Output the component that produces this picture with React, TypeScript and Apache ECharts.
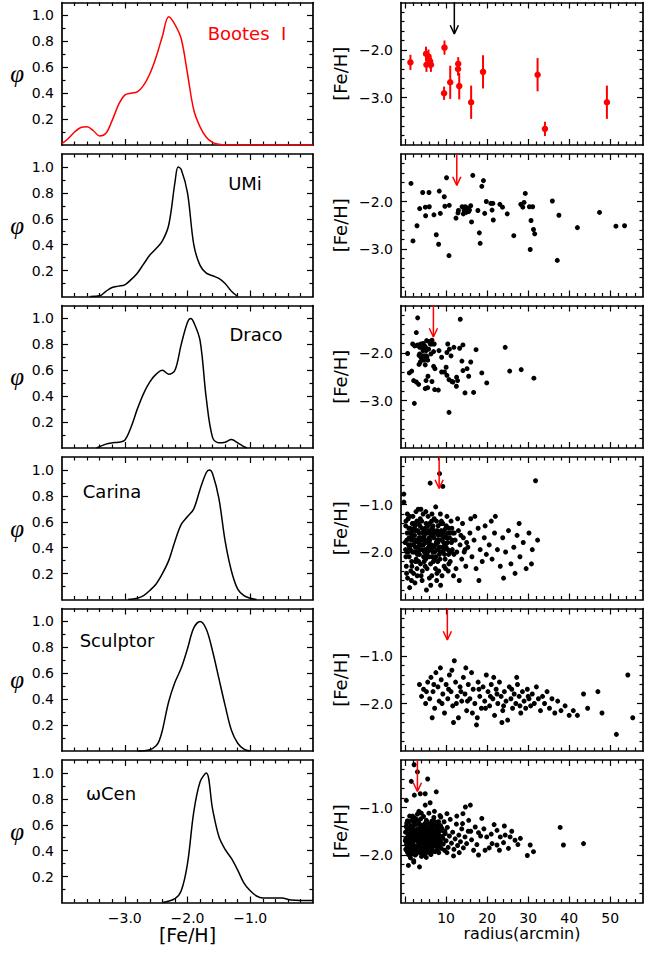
import React, { useEffect, useRef } from 'react';
import * as echarts from 'echarts';

const galaxyNames = ['Bootes  I', 'UMi', 'Draco', 'Carina', 'Sculptor', 'ωCen'];
const galaxyColors = ['#ff0000', '#000000', '#000000', '#000000', '#000000', '#000000'];

// metallicity distribution functions (left column)
const booFeH = [-4.0, -3.9, -3.8, -3.7, -3.6, -3.5, -3.4, -3.3, -3.2, -3.1, -3.0, -2.9, -2.8, -2.7, -2.6, -2.5, -2.4, -2.3, -2.2, -2.1, -2.0, -1.9, -1.8, -1.7, -1.6, -1.5, -1.4, -1.2, -0.8, -0.4, 0.0];
const booPhi = [0.01, 0.05, 0.10, 0.135, 0.14, 0.11, 0.07, 0.09, 0.19, 0.31, 0.385, 0.40, 0.41, 0.46, 0.55, 0.68, 0.84, 0.99, 0.93, 0.82, 0.55, 0.27, 0.14, 0.06, 0.02, 0.005, 0, 0, 0, 0, 0];

const umiFeH = [-3.55, -3.4, -3.3, -3.2, -3.1, -3.0, -2.9, -2.8, -2.7, -2.6, -2.5, -2.4, -2.3, -2.2, -2.15, -2.1, -2.0, -1.9, -1.8, -1.7, -1.6, -1.5, -1.4, -1.3, -1.2];
const umiPhi = [0, 0.005, 0.04, 0.07, 0.08, 0.09, 0.13, 0.18, 0.25, 0.32, 0.37, 0.43, 0.55, 0.88, 1.0, 0.98, 0.80, 0.40, 0.24, 0.18, 0.16, 0.14, 0.10, 0.04, 0.0];

const draFeH = [-3.45, -3.3, -3.2, -3.1, -3.0, -2.9, -2.8, -2.7, -2.6, -2.5, -2.4, -2.3, -2.2, -2.1, -2.0, -1.95, -1.9, -1.8, -1.7, -1.6, -1.5, -1.4, -1.3, -1.2, -1.1, -1.05];
const draPhi = [0, 0.03, 0.04, 0.045, 0.06, 0.16, 0.30, 0.42, 0.51, 0.57, 0.60, 0.57, 0.60, 0.80, 0.97, 1.0, 0.97, 0.83, 0.38, 0.08, 0.04, 0.045, 0.065, 0.04, 0.01, 0];

const carFeH = [-2.95, -2.8, -2.7, -2.6, -2.5, -2.4, -2.3, -2.2, -2.1, -2.0, -1.9, -1.8, -1.7, -1.65, -1.6, -1.5, -1.4, -1.3, -1.2, -1.1, -1.0, -0.9];
const carPhi = [0, 0.01, 0.03, 0.07, 0.12, 0.2, 0.3, 0.45, 0.58, 0.64, 0.7, 0.85, 0.98, 1.0, 0.97, 0.78, 0.45, 0.22, 0.08, 0.03, 0.01, 0];

const sclFeH = [-2.8, -2.6, -2.5, -2.45, -2.4, -2.3, -2.2, -2.1, -2.0, -1.9, -1.8, -1.7, -1.6, -1.5, -1.4, -1.3, -1.2, -1.1, -1.0];
const sclPhi = [0, 0.01, 0.04, 0.08, 0.16, 0.38, 0.53, 0.64, 0.79, 0.95, 1.0, 0.94, 0.77, 0.56, 0.35, 0.16, 0.06, 0.015, 0];

const ocenFeH = [-2.4, -2.2, -2.1, -2.0, -1.9, -1.8, -1.7, -1.6, -1.5, -1.4, -1.3, -1.2, -1.1, -1.0, -0.9, -0.8, -0.6, -0.5, -0.35, 0.0];
const ocenPhi = [0, 0.03, 0.09, 0.3, 0.7, 0.93, 1.0, 0.72, 0.51, 0.41, 0.34, 0.25, 0.15, 0.09, 0.05, 0.035, 0.035, 0.035, 0.02, 0.015];

// radius (arcmin), [Fe/H], error (Bootes I only)
const booStars = [
  [1.3, -2.26, 0.16], [5.1, -2.08, 0.15], [5.7, -2.14, 0.15], [6.1, -2.24, 0.15], [5.2, -2.31, 0.15], [6.3, -2.31, 0.15],
  [9.6, -1.95, 0.15], [9.5, -2.91, 0.14], [11.0, -2.68, 0.35], [12.95, -2.29, 0.14], [12.9, -2.40, 0.14], [13.2, -2.76, 0.28],
  [16.1, -3.10, 0.35], [19.0, -2.46, 0.35], [32.3, -2.52, 0.35], [34.1, -3.66, 0.15], [49.2, -3.10, 0.35],
];

const umiStars = [
  [1.43, -1.62], [1.92, -2.83], [2.9, -2.51], [3.55, -2.15], [4.28, -1.81], [4.93, -2.12], [5.0, -2.30], [5.82, -1.81],
  [5.9, -2.11], [7.03, -2.28], [7.6, -2.70], [8.17, -2.90], [8.33, -1.78], [8.58, -2.25], [9.55, -1.90], [9.7, -2.10],
  [10.1, -1.50], [10.77, -2.08], [10.7, -3.14], [12.4, -2.35], [12.9, -2.24], [13.0, -2.19], [13.9, -2.11], [14.2, -2.26],
  [14.4, -2.19], [14.65, -2.11], [14.9, -2.23], [15.2, -2.14], [15.5, -2.21], [15.7, -2.18], [16.0, -2.09], [16.2, -2.43],
  [16.5, -1.45], [17.75, -2.19], [18.1, -2.66], [18.3, -2.88], [18.7, -1.68], [19.1, -1.56], [19.4, -2.25], [19.8, -2.0],
  [20.9, -2.04], [21.2, -2.18], [21.4, -2.04], [21.5, -2.39], [23.1, -2.06], [23.75, -2.12], [24.9, -2.26], [26.5, -2.72],
  [28.2, -2.06], [28.7, -2.12], [29.0, -2.02], [29.3, -1.83], [30.3, -2.11], [30.5, -3.01], [30.7, -2.40], [31.1, -2.11],
  [31.3, -2.59], [31.6, -2.68], [35.9, -1.99], [37.1, -3.24], [37.5, -2.29], [42.0, -2.55], [47.4, -2.23], [51.4, -2.52], [53.5, -2.51],
];

const draStars = [
  [0.62, -2.01], [1.03, -2.42], [1.6, -2.38], [2.25, -3.06], [1.84, -1.81], [2.33, -1.85], [2.73, -1.57], [3.06, -1.26],
  [2.08, -2.58], [2.73, -2.61], [3.3, -2.66], [2.9, -1.84], [3.55, -1.88], [3.87, -1.81], [4.1, -1.88], [3.55, -2.02],
  [3.7, -2.19], [3.4, -2.24], [4.36, -1.95], [4.76, -1.85], [5.0, -1.88], [5.1, -1.95], [5.25, -1.74], [4.7, -2.06],
  [5.33, -2.08], [5.82, -1.76], [6.14, -1.81], [6.55, -1.73], [6.63, -1.81], [6.3, -2.02], [5.74, -1.92], [5.17, -2.06],
  [5.5, -2.15], [4.2, -2.06], [5.1, -2.58], [5.57, -2.49], [6.55, -2.60], [4.9, -2.75], [5.5, -2.73], [7.2, -2.77],
  [8.1, -2.78], [6.95, -2.28], [7.28, -2.33], [6.95, -1.97], [7.1, -1.81], [8.25, -1.95], [8.9, -2.09], [8.9, -2.40],
  [9.6, -2.40], [10.0, -2.30], [10.2, -1.99], [10.4, -1.81], [10.8, -1.92], [10.2, -2.47], [10.7, -2.56], [10.7, -3.25],
  [11.2, -2.06], [11.4, -2.60], [11.66, -2.61], [11.9, -1.88], [12.5, -2.70], [12.55, -2.51], [12.8, -2.58], [13.3, -1.90],
  [13.45, -1.29], [13.85, -2.17], [14.1, -1.83], [14.1, -2.37], [14.6, -2.84], [15.1, -2.33], [15.5, -2.49], [16.0, -2.19],
  [16.7, -2.83], [17.3, -1.93], [18.7, -2.42], [19.9, -2.63], [24.4, -1.88], [25.5, -2.38], [28.3, -2.35], [31.4, -2.53],
  [3.1, -1.83], [3.4, -2.05], [3.9, -2.1], [4.4, -1.8], [4.6, -2.15], [4.9, -2.25],
];

const carStars = [
  [-0.3, -0.95], [0.2, -1.35], [0.5, -1.6], [0.8, -1.85], [1.0, -2.1], [0.3, -2.3], [1.2, -1.5], [1.5, -1.75], [1.8, -2.0], [0.6, -2.55],
  [1.4, -2.4], [1.9, -1.25], [0.1, -1.95], [1.1, -2.75], [2.1, -1.4], [2.3, -1.65], [2.5, -1.9], [2.7, -2.15], [2.9, -2.35], [3.1, -1.55],
  [3.3, -1.8], [3.5, -2.05], [3.7, -1.3], [3.9, -2.5], [2.4, -2.65], [3.2, -1.1], [2.8, -1.75], [3.6, -1.95], [2.2, -2.0], [3.8, -1.7],
  [4.1, -1.5], [4.3, -1.85], [4.5, -2.1], [4.7, -1.65], [4.9, -2.3], [5.1, -1.4], [5.3, -1.75], [5.5, -2.0], [5.7, -1.9], [5.9, -2.55],
  [4.4, -1.2], [5.2, -2.8], [4.8, -1.95], [5.8, -1.55], [4.2, -2.4], [5.6, -1.25], [6.1, -0.55], [6.2, -1.6], [6.4, -1.85], [6.6, -2.1],
  [6.8, -1.45], [7.0, -1.7], [7.2, -2.0], [7.4, -2.35], [7.6, -1.8], [7.8, -1.55], [6.5, -2.5], [7.1, -1.3], [6.9, -2.2], [7.7, -2.6],
  [6.3, -1.95], [8.1, -1.65], [8.3, -1.9], [8.5, -2.15], [8.7, -1.4], [8.9, -1.75], [9.1, -2.0], [9.3, -1.6], [9.5, -2.3], [9.7, -1.85],
  [9.9, -1.5], [8.4, -0.35], [9.0, -2.5], [8.6, -1.2], [9.6, -2.05], [8.2, -2.4], [10.1, -1.7], [10.4, -1.95], [10.7, -1.5], [11.0, -2.2],
  [11.3, -1.8], [11.6, -1.6], [11.9, -2.05], [10.5, -2.4], [11.2, -1.35], [11.8, -2.5], [10.2, -1.25], [12.2, -1.75], [12.6, -2.0], [13.0, -1.55],
  [13.4, -1.85], [13.8, -2.15], [14.2, -1.7], [14.6, -1.95], [12.4, -2.35], [13.2, -2.6], [14.0, -1.4], [14.8, -2.3], [12.8, -1.3], [15.3, -1.9],
  [15.8, -1.6], [16.3, -2.1], [16.8, -1.75], [17.3, -2.35], [17.8, -1.5], [18.3, -1.95], [18.8, -2.2], [19.3, -1.7], [19.8, -2.05], [16.0, -1.3],
  [18.0, -2.6], [17.0, -1.25], [19.5, -1.45], [20.5, -1.85], [21.2, -2.15], [21.8, -1.6], [22.5, -1.95], [23.2, -2.3], [23.8, -1.7], [24.5, -2.0],
  [25.2, -1.55], [25.8, -2.25], [21.0, -1.35], [24.0, -2.55], [22.0, -1.25], [26.5, -1.9], [27.3, -1.65], [28.0, -2.1], [28.8, -1.8], [29.5, -2.35],
  [30.2, -1.6], [31.0, -1.95], [31.8, -0.5], [27.8, -1.4], [30.8, -2.25], [32.3, -1.75], [26.8, -2.45], [9.2, -0.62], [-0.3, -0.78],
  [0.4, -1.75], [0.9, -1.5], [1.3, -1.95], [1.7, -1.65], [2.0, -1.85], [2.6, -1.55], [3.0, -2.05], [3.4, -1.6], [4.0, -1.75], [4.6, -1.55],
  [5.0, -1.8], [5.4, -1.6], [6.0, -1.75], [6.7, -1.9], [7.3, -1.6], [7.9, -1.95], [8.0, -1.8], [8.8, -1.55], [9.4, -1.8], [10.0, -1.9],
  [10.8, -1.7], [11.5, -1.95], [12.0, -1.6], [0.7, -2.0], [1.6, -2.2], [2.4, -1.45], [3.3, -2.2], [4.1, -1.95], [5.0, -2.15], [5.9, -1.7],
  [6.6, -1.5], [7.5, -2.1], [8.6, -1.9], [9.2, -1.4], [10.6, -2.05], [11.4, -1.5], [2.9, -1.9], [3.9, -1.85], [4.7, -2.0], [6.2, -2.25],
  [7.0, -1.9], [8.3, -1.6], [9.8, -1.65], [1.0, -1.7], [1.9, -1.55], [2.7, -2.0], [3.6, -1.45], [4.5, -1.7], [5.3, -1.95], [6.4, -1.65],
  [7.8, -1.75], [0.0, -1.8], [0.2, -2.1], [1.2, -1.85], [13.6, -1.65], [15.0, -1.8], [14.4, -2.0],
  [0.15, -1.45], [0.45, -2.0], [0.75, -1.3], [1.05, -1.9], [1.35, -1.6], [1.65, -2.3], [1.95, -1.7], [2.25, -1.5], [2.55, -2.2], [2.85, -1.35],
  [3.15, -2.0], [3.45, -1.7], [3.75, -2.25], [4.05, -1.35], [4.35, -1.6], [4.65, -2.2], [4.95, -1.5], [5.25, -2.05], [5.55, -1.45], [5.85, -2.1],
  [6.15, -1.85], [6.45, -1.35], [6.75, -2.0], [7.05, -1.55], [7.35, -1.85], [7.65, -1.35], [7.95, -2.2], [8.25, -1.75], [8.55, -2.0], [8.85, -1.35],
  [9.15, -1.9], [9.45, -1.55], [9.75, -2.15], [10.05, -1.45], [10.35, -1.8], [10.65, -2.25], [10.95, -1.6], [11.25, -2.0], [11.55, -1.75], [0.55, -1.2],
  [1.75, -1.4], [2.95, -2.5], [4.15, -2.6], [5.35, -2.35], [6.55, -1.2], [7.75, -2.45], [8.95, -1.65], [0.35, -2.45], [1.55, -2.6], [2.65, -1.15],
  [3.85, -1.1], [5.05, -1.15], [6.25, -2.7], [7.45, -1.05], [8.65, -2.7], [9.85, -2.35], [2.05, -2.45], [3.25, -1.4], [4.45, -1.85], [5.65, -1.8],
  [6.85, -1.65], [8.05, -1.45], [9.25, -1.7], [10.45, -1.6], [1.15, -1.25], [2.35, -1.8], [3.55, -1.85], [4.75, -1.75], [5.95, -1.4], [7.15, -2.15],
  [8.35, -2.05], [9.55, -1.95],
];

const sclStars = [
  [3.5, -1.6], [4.0, -1.85], [4.5, -1.7], [5.0, -2.0], [5.5, -1.55], [6.0, -1.9], [6.3, -1.45], [6.8, -1.75], [7.2, -2.1], [7.5, -1.35],
  [8.0, -1.65], [8.3, -1.95], [8.8, -1.5], [9.2, -1.8], [9.6, -2.2], [10.0, -1.6], [10.4, -1.9], [10.8, -1.4], [11.2, -1.75], [11.6, -2.05],
  [12.0, -1.1], [12.3, -1.55], [12.7, -1.85], [13.0, -2.3], [13.4, -1.65], [13.8, -1.95], [14.2, -1.45], [14.6, -1.8], [15.0, -2.15], [15.4, -1.6],
  [15.8, -1.9], [16.2, -1.35], [16.6, -1.7], [17.0, -2.0], [17.4, -2.45], [17.8, -1.55], [18.2, -1.85], [18.6, -2.1], [19.0, -1.65], [19.4, -1.95],
  [19.8, -1.4], [20.2, -1.75], [20.6, -2.05], [21.0, -1.6], [21.4, -1.9], [21.8, -2.25], [22.2, -1.7], [22.6, -2.0], [23.0, -1.55], [23.4, -1.85],
  [23.8, -2.15], [24.2, -1.75], [24.6, -1.95], [25.0, -2.35], [25.4, -1.65], [25.8, -1.9], [26.2, -2.1], [26.6, -1.8], [27.0, -2.0], [27.4, -1.6],
  [27.8, -1.85], [28.2, -2.2], [28.6, -1.75], [29.0, -1.95], [29.4, -2.1], [29.8, -1.7], [30.2, -1.9], [30.6, -2.05], [31.0, -1.8], [31.5, -2.0],
  [32.0, -1.65], [32.5, -1.9], [33.0, -2.15], [33.5, -1.85], [34.0, -2.0], [34.6, -1.75], [35.2, -2.1], [35.8, -1.9], [36.5, -2.2], [37.2, -1.95],
  [38.0, -2.15], [39.0, -2.05], [40.0, -2.25], [41.0, -2.15], [42.0, -2.25], [43.5, -1.8], [47.0, -1.75], [48.0, -2.2], [51.5, -2.65], [54.3, -1.4],
  [55.5, -2.3], [44.5, -2.1], [5.2, -1.75], [7.0, -1.6], [9.0, -2.0], [10.6, -1.7], [12.5, -2.0], [13.6, -1.75], [15.2, -1.95], [16.4, -2.2],
  [18.0, -1.7], [19.6, -2.1], [20.8, -1.85], [22.4, -1.8], [24.0, -2.05], [26.0, -1.7], [28.0, -2.05], [30.0, -1.85], [8.6, -1.25], [11.4, -1.3],
  [14.8, -1.25], [21.6, -1.45], [27.2, -1.45], [23.6, -2.4], [17.6, -2.3], [11.8, -2.4], [6.6, -2.3],
];

const ocenStars = [
  [0.1, -1.52], [0.3, -1.78], [0.4, -1.33], [0.6, -1.95], [0.7, -1.61], [0.9, -1.44], [1.0, -1.86], [1.1, -1.18], [1.2, -1.69], [1.3, -2.06],
  [1.4, -1.51], [1.5, -1.79], [1.6, -1.27], [1.7, -1.92], [1.8, -1.63], [1.9, -1.41], [2.0, -1.74], [2.1, -2.12], [2.2, -1.56], [2.3, -1.22],
  [2.4, -1.87], [2.5, -1.67], [2.6, -1.36], [2.7, -1.98], [2.8, -1.48], [2.9, -1.81], [3.0, -1.14], [3.1, -1.59], [3.2, -1.72], [3.3, -1.31],
  [3.4, -1.94], [3.5, -1.46], [3.6, -1.66], [3.7, -1.84], [3.8, -1.24], [3.9, -1.55], [4.0, -2.03], [4.1, -1.38], [4.2, -1.76], [4.3, -1.62],
  [4.4, -1.89], [4.5, -1.19], [4.6, -1.49], [4.7, -1.71], [4.8, -1.34], [4.9, -1.96], [5.0, -1.58], [5.1, -1.81], [5.2, -1.27], [5.3, -1.68],
  [5.4, -1.43], [5.5, -1.91], [5.6, -1.53], [5.7, -1.74], [5.8, -1.12], [5.9, -1.64], [6.0, -1.86], [6.1, -1.37], [6.2, -1.57], [6.3, -1.99],
  [6.4, -1.7], [6.5, -1.29], [6.6, -1.83], [6.7, -1.47], [6.8, -1.62], [6.9, -1.78], [7.0, -1.21], [7.2, -1.55], [7.3, -1.93], [7.4, -1.68],
  [7.5, -1.4], [7.7, -1.8], [7.8, -1.6], [7.9, -1.33], [8.1, -1.73], [8.2, -1.95], [8.4, -1.5], [8.5, -1.17], [8.7, -1.66], [8.8, -1.86],
  [9.0, -1.44], [9.1, -1.61], [9.3, -1.77], [9.5, -1.3], [9.6, -1.9], [9.8, -1.55], [10.0, -1.7], [10.3, -1.42], [10.5, -1.84], [10.8, -1.6],
  [11.0, -1.25], [11.3, -1.75], [11.6, -1.52], [11.9, -1.88], [12.2, -1.66], [12.5, -1.35], [12.8, -1.8], [13.1, -1.58], [13.5, -1.72], [13.8, -1.45],
  [14.2, -1.85], [14.6, -1.62], [15.0, -1.76], [15.4, -1.5],
  [0.2, -1.65], [0.5, -1.45], [0.8, -1.72], [1.05, -1.58], [1.35, -1.38], [1.65, -1.7], [1.95, -1.54], [2.25, -1.82], [2.55, -1.5], [2.85, -1.64],
  [3.15, -1.88], [3.45, -1.56], [3.75, -1.4], [4.05, -1.67], [4.35, -1.52], [4.65, -1.83], [4.95, -1.7], [5.25, -1.48], [5.55, -1.62], [5.85, -1.78],
  [6.15, -1.5], [6.45, -1.66], [6.75, -1.92], [7.05, -1.72], [7.35, -1.5], [7.65, -1.68], [8.0, -1.55], [8.35, -1.82], [8.65, -1.38], [9.2, -1.65],
  [9.7, -1.5], [10.2, -1.95], [0.35, -1.9], [0.95, -2.0], [1.55, -1.98], [2.15, -1.32], [2.75, -1.25], [3.35, -1.08], [3.95, -1.12], [4.55, -2.0],
  [5.15, -2.05], [5.75, -1.95], [6.55, -1.42], [7.15, -1.08],
  [0.05, -1.7], [0.25, -1.4], [0.45, -1.85], [0.65, -1.55], [0.85, -1.3], [1.15, -1.75], [1.45, -1.62], [1.75, -1.85], [2.05, -1.45], [2.35, -1.68],
  [2.65, -1.9], [2.95, -1.55], [3.25, -1.78], [3.55, -1.35], [3.85, -1.72], [4.15, -1.92], [4.45, -1.6], [4.75, -1.42], [5.05, -1.88], [5.35, -1.57],
  [5.65, -1.33], [5.95, -1.72], [6.25, -1.62], [6.55, -1.88], [6.85, -1.36], [7.15, -1.58], [7.45, -1.82], [7.75, -1.46], [8.05, -1.66], [8.45, -1.6],
  [8.9, -1.75], [0.55, -1.28], [1.25, -1.95], [1.85, -1.18], [2.45, -2.0], [3.05, -1.68], [3.65, -1.58], [4.25, -1.45], [4.85, -1.6], [5.45, -1.74],
  [6.05, -1.55], [6.65, -1.75], [7.25, -1.3], [7.85, -1.9], [0.15, -1.88], [0.75, -1.78], [1.35, -1.48], [1.95, -1.9], [2.55, -1.62], [3.15, -1.45],
  [3.75, -1.95], [4.35, -1.75], [4.95, -1.35], [5.55, -1.48], [6.15, -1.92], [6.75, -1.55], [7.35, -1.72], [8.15, -1.3], [0.95, -1.66], [1.65, -1.55],
  [2.25, -1.28], [2.85, -1.85], [3.4, -1.62], [4.0, -1.52], [4.6, -1.68], [5.2, -1.65], [5.8, -1.85], [6.4, -1.45], [7.0, -1.65], [7.6, -1.55],
  [8.3, -1.4], [9.4, -1.5],
  [0.3, -0.85], [2.25, -0.74], [3.7, -0.71], [4.9, -0.71], [7.6, -0.67], [6.1, -0.9], [4.9, -0.95], [1.5, -0.45], [3.0, -0.25], [2.2, -0.1],
  [5.5, -0.4], [0.8, -2.22], [2.1, -2.15], [3.5, -2.25],
  [14.7, -0.99], [15.9, -0.95], [14.1, -1.13], [10.2, -1.13], [12.6, -1.18], [8.7, -1.2], [18.7, -1.23], [14.0, -1.34], [15.5, -1.27], [17.1, -1.41],
  [21.7, -1.36], [22.4, -1.48], [24.2, -1.39], [17.9, -1.53], [19.9, -1.62], [21.0, -1.56], [23.2, -1.62], [24.4, -1.58], [25.6, -1.62], [26.8, -1.69],
  [28.1, -1.65], [30.5, -1.79], [31.3, -1.93], [29.8, -2.01], [21.2, -1.76], [22.4, -1.79], [24.0, -1.74], [25.2, -1.86], [17.9, -2.0], [16.7, -1.9],
  [37.8, -1.42], [38.6, -1.79], [43.5, -1.76], [16.2, -1.68], [17.5, -1.78], [18.4, -1.6], [19.2, -1.45], [20.5, -1.85], [13.2, -1.95], [11.8, -2.02],
  [16.0, -1.5], [19.5, -1.9], [27.5, -1.78], [23.0, -1.9], [26.0, -1.5],
];

// characteristic radius arrows
const arrowRadius = [12.0, 12.6, 6.9, 8.3, 10.3, 3.0];
const arrowColors = ['#000000', '#ff0000', '#ff0000', '#ff0000', '#ff0000', '#ff0000'];

// tick values
const fehXMajor = [-3, -2, -1];
const fehXLabels = [-3, -2, -1];
const fehXMinor = [-3.8, -3.6, -3.4, -3.2, -2.8, -2.6, -2.4, -2.2, -1.8, -1.6, -1.4, -1.2, -0.8, -0.6, -0.4, -0.2];
const phiMajor = [0.2, 0.4, 0.6, 0.8, 1.0];
const phiLabels = [0.2, 0.4, 0.6, 0.8, 1.0];
const phiMinor = [0.1, 0.3, 0.5, 0.7, 0.9];
const radMajor = [0, 10, 20, 30, 40, 50];
const radLabels = [10, 20, 30, 40, 50];
const radMinor = [2, 4, 6, 8, 12, 14, 16, 18, 22, 24, 26, 28, 32, 34, 36, 38, 42, 44, 46, 48, 52, 54, 56];
const fehYMajorA = [-3, -2];
const fehYLabelsA = [-3, -2];
const fehYMinorA = [-3.8, -3.6, -3.4, -3.2, -2.8, -2.6, -2.4, -2.2, -1.8, -1.6, -1.4, -1.2];
const fehYMajorB = [-2, -1];
const fehYLabelsB = [-2, -1];
const fehYMinorB = [-2.8, -2.6, -2.4, -2.2, -1.8, -1.6, -1.4, -1.2, -0.8, -0.6, -0.4, -0.2];

const FONT = 'DejaVu Sans';
const fmt1 = (v: number) => (v < 0 ? '\u2212' : '') + Math.abs(v).toFixed(1);
const fmt0 = (v: number) => String(Math.round(v));

type AxisCfg = { min: number; max: number; major: number[]; minor: number[]; labels: number[]; fmt: (v: number) => string };

const LINE = { color: '#000', width: 1.7 };
const TICK = { color: '#000', width: 1.2 };

function makeAxes(gridIndex: number, cfg: AxisCfg, sides: string[], showLabels: boolean, extra: any) {
  const list: any[] = [];
  sides.forEach((pos, si) => {
    const main = si === 0;
    list.push({
      gridIndex, type: 'value', min: cfg.min, max: cfg.max, position: pos,
      axisLine: { show: true, onZero: false, lineStyle: LINE },
      axisTick: { show: true, inside: true, length: 6, customValues: cfg.major, lineStyle: TICK },
      axisLabel: main && showLabels
        ? { show: true, customValues: cfg.labels, formatter: cfg.fmt, fontFamily: FONT, fontSize: 14, color: '#000', margin: 8 }
        : { show: false },
      splitLine: { show: false },
      ...(main ? extra : {}),
    });
    list.push({
      gridIndex, type: 'value', min: cfg.min, max: cfg.max, position: pos,
      axisLine: { show: false, onZero: false },
      axisTick: { show: true, inside: true, length: 3.5, customValues: cfg.minor, lineStyle: TICK },
      axisLabel: { show: false },
      splitLine: { show: false },
    });
  });
  return list;
}

function buildOption() {
  const TOP0 = 2.5, PITCH = 151.5, H = 142.5;
  const LX = 62, LW = 251, RX = 401, RW = 242;
  const grid: any[] = [], xAxis: any[] = [], yAxis: any[] = [], series: any[] = [], graphic: any[] = [];

  const mdfs = [[booFeH, booPhi], [umiFeH, umiPhi], [draFeH, draPhi], [carFeH, carPhi], [sclFeH, sclPhi], [ocenFeH, ocenPhi]];
  const stars = [booStars, umiStars, draStars, carStars, sclStars, ocenStars];
  const namePos = [[247, 33], [245, 183], [256, 334], [112, 491], [117, 640], [111, 793]];

  for (let i = 0; i < 6; i++) {
    const top = TOP0 + i * PITCH;
    const last = i === 5;
    const color = galaxyColors[i];
    const gl = grid.length;
    grid.push({ left: LX, top, width: LW, height: H, containLabel: false });
    const xl = xAxis.length, yl = yAxis.length;
    xAxis.push(...makeAxes(gl, { min: -4, max: 0, major: fehXMajor, minor: fehXMinor, labels: fehXLabels, fmt: fmt1 }, ['bottom', 'top'], last,
      last ? { name: '[Fe/H]', nameLocation: 'middle', nameGap: 22, nameTextStyle: { fontFamily: FONT, fontSize: 19, color: '#000' } } : {}));
    yAxis.push(...makeAxes(gl, { min: 0, max: 1.1, major: phiMajor, minor: phiMinor, labels: phiLabels, fmt: fmt1 }, ['left', 'right'], true,
      { name: 'φ', nameLocation: 'middle', nameRotate: 0, nameGap: 38, nameTextStyle: { fontFamily: 'Liberation Serif', fontStyle: 'italic', fontSize: 25, color: '#000' } }));
    const [fx, fy] = mdfs[i];
    series.push({
      type: 'line', xAxisIndex: xl, yAxisIndex: yl, smooth: 0.35, showSymbol: false, symbol: 'none',
      lineStyle: { color, width: 1.5 }, data: fx.map((v, k) => [v, fy[k]]),
    });
    graphic.push({ type: 'text', x: namePos[i][0], y: namePos[i][1], style: { text: galaxyNames[i], fill: color, font: `18px "${FONT}"`, textAlign: 'center', textVerticalAlign: 'middle' } });

    const gr = grid.length;
    grid.push({ left: RX, top, width: RW, height: H, containLabel: false });
    const xr = xAxis.length, yr = yAxis.length;
    xAxis.push(...makeAxes(gr, { min: -1, max: 58, major: radMajor, minor: radMinor, labels: radLabels, fmt: fmt0 }, ['bottom', 'top'], last,
      last ? { name: 'radius(arcmin)', nameLocation: 'middle', nameGap: 22, nameTextStyle: { fontFamily: FONT, fontSize: 16, color: '#000' } } : {}));
    const upper = i < 3;
    yAxis.push(...makeAxes(gr, upper
      ? { min: -4, max: -1, major: fehYMajorA, minor: fehYMinorA, labels: fehYLabelsA, fmt: fmt1 }
      : { min: -3, max: 0, major: fehYMajorB, minor: fehYMinorB, labels: fehYLabelsB, fmt: fmt1 }, ['left', 'right'], true,
      { name: '[Fe/H]', nameLocation: 'middle', nameGap: 52, nameTextStyle: { fontFamily: FONT, fontSize: 18, color: '#000' } }));
    const ymax = upper ? -1 : 0;
    if (i === 0) {
      series.push({
        type: 'custom', xAxisIndex: xr, yAxisIndex: yr, data: booStars,
        encode: { x: 0, y: 1 },
        renderItem: (_p: any, api: any) => {
          const x = api.value(0), y = api.value(1), e = api.value(2);
          const a = api.coord([x, y - e]), b = api.coord([x, y + e]);
          return { type: 'line', shape: { x1: a[0], y1: a[1], x2: b[0], y2: b[1] }, style: { stroke: '#ff0000', lineWidth: 2 } };
        },
      });
    }
    series.push({
      type: 'scatter', xAxisIndex: xr, yAxisIndex: yr, symbolSize: i === 0 ? 6.5 : 5,
      itemStyle: { color: i === 0 ? '#ff0000' : '#000', opacity: 1 }, data: stars[i].map((s) => [s[0], s[1]]),
    });
    const r = arrowRadius[i];
    const tip = ymax - 0.66;
    series.push({
      type: 'line', xAxisIndex: xr, yAxisIndex: yr, symbol: 'none', lineStyle: { color: arrowColors[i], width: 1.5 },
      data: [[r, ymax], [r, tip]],
    });
    series.push({
      type: 'line', xAxisIndex: xr, yAxisIndex: yr, symbol: 'none', lineStyle: { color: arrowColors[i], width: 1.5 },
      data: [[r - 1.0, tip + 0.18], [r, tip], [r + 1.0, tip + 0.18]],
    });
  }
  return { animation: false, backgroundColor: '#fff', grid, xAxis, yAxis, series, graphic };
}

export default function App() {
  const ref = useRef<HTMLDivElement>(null);
  useEffect(() => {
    document.body.style.margin = '0';
    const chart = echarts.init(ref.current!, null, { renderer: 'svg' });
    chart.setOption(buildOption());
    return () => chart.dispose();
  }, []);
  return <div ref={ref} style={{ width: 654, height: 954 }} />;
}
